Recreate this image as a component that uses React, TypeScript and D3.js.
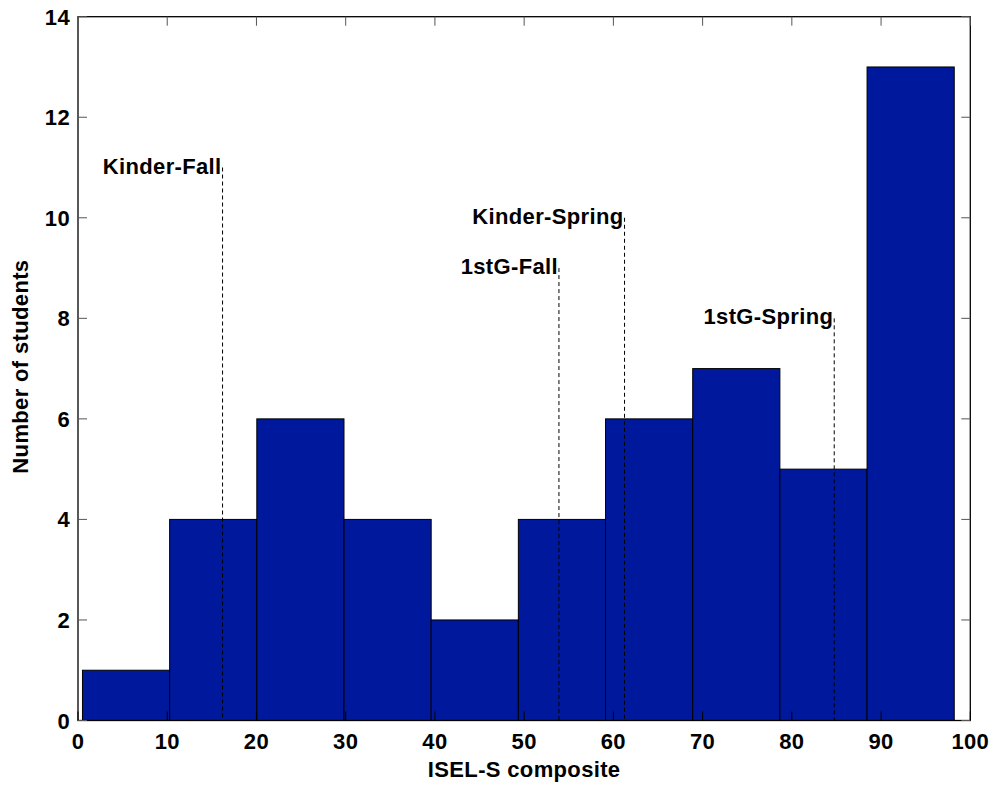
import React from "react";
import * as d3 from "d3";

const binEdges = [0.5, 10.27, 20.04, 29.81, 39.58, 49.35, 59.12, 68.89, 78.66, 88.43, 98.2];
const counts = [1, 4, 6, 4, 2, 4, 6, 7, 5, 13];
const markerLabels = ["Kinder-Fall", "1stG-Fall", "Kinder-Spring", "1stG-Spring"];
const markerX = [16.2, 53.9, 61.25, 84.75];
const markerTop = [11, 9, 10, 8];
const xTicks = [0, 10, 20, 30, 40, 50, 60, 70, 80, 90, 100];
const yTicks = [0, 2, 4, 6, 8, 10, 12, 14];
const xLabel = "ISEL-S composite";
const yLabel = "Number of students";

const W = 993;
const H = 788;
const left = 78;
const right = 970.3;
const top = 16.7;
const bottom = 720.5;
const FONT = "'Liberation Sans', Arial, Helvetica, sans-serif";
const BAR = "#00189b";
const LS = 0.35;

export default function App() {
  const x = d3.scaleLinear().domain([0, 100]).range([left, right]);
  const y = d3.scaleLinear().domain([0, 14]).range([bottom, top]);
  const tickLen = 9;

  return (
    <svg
      width={W}
      height={H}
      style={{ position: "absolute", left: 0, top: 0, background: "#fff" }}
      fontFamily={FONT}
    >
      <rect x={0} y={0} width={W} height={H} fill="#fff" />
      {counts.map((c, i) => (
        <rect
          key={i}
          x={x(binEdges[i])}
          y={y(c)}
          width={x(binEdges[i + 1]) - x(binEdges[i])}
          height={y(0) - y(c)}
          fill={BAR}
          stroke="#000"
          strokeWidth={1}
        />
      ))}
      {markerLabels.map((lab, i) => (
        <g key={lab}>
          <line
            x1={x(markerX[i])}
            x2={x(markerX[i])}
            y1={y(markerTop[i])}
            y2={y(0)}
            stroke="#000"
            strokeWidth={1}
            strokeDasharray="4,3"
          />
          <text
            x={x(markerX[i]) - 1}
            y={y(markerTop[i]) + 6}
            textAnchor="end"
            fontSize={22}
            fontWeight="bold"
            letterSpacing={LS}
            fill="#000"
          >
            {lab}
          </text>
        </g>
      ))}
      <rect
        x={left}
        y={top}
        width={right - left}
        height={bottom - top}
        fill="none"
        stroke="#000"
        strokeWidth={1.3}
      />
      {xTicks.map((t) => (
        <g key={"x" + t}>
          <line x1={x(t)} x2={x(t)} y1={bottom} y2={bottom - tickLen} stroke="#000" strokeWidth={1} />
          <line x1={x(t)} x2={x(t)} y1={top} y2={top + tickLen} stroke="#555" strokeWidth={1} />
          <text
            x={x(t)}
            y={749}
            textAnchor="middle"
            fontSize={22}
            fontWeight="bold"
            letterSpacing={LS}
            fill="#000"
          >
            {t}
          </text>
        </g>
      ))}
      {yTicks.map((t) => (
        <g key={"y" + t}>
          <line x1={left} x2={left + tickLen} y1={y(t)} y2={y(t)} stroke="#555" strokeWidth={1} />
          <line x1={right} x2={right - tickLen} y1={y(t)} y2={y(t)} stroke="#555" strokeWidth={1} />
          <text
            x={70}
            y={y(t) + 8}
            textAnchor="end"
            fontSize={22}
            fontWeight="bold"
            letterSpacing={LS}
            fill="#000"
          >
            {t}
          </text>
        </g>
      ))}
      <text
        x={(left + right) / 2}
        y={777}
        textAnchor="middle"
        fontSize={22}
        fontWeight="bold"
        letterSpacing={LS}
        fill="#000"
      >
        {xLabel}
      </text>
      <text
        transform={`translate(28,${(top + bottom) / 2 - 2}) rotate(-90)`}
        textAnchor="middle"
        fontSize={22}
        fontWeight="bold"
        letterSpacing={LS}
        fill="#000"
      >
        {yLabel}
      </text>
    </svg>
  );
}
